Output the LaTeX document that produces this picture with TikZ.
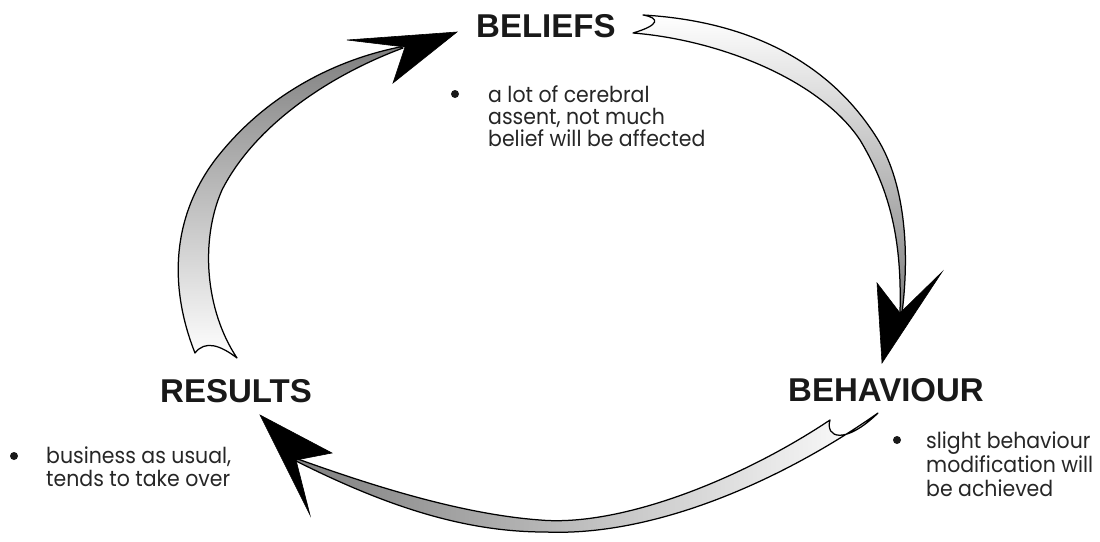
\documentclass[tikz,border=0pt]{standalone}
\usepackage{fontspec}
\newfontfamily\headfont{Liberation Sans}
\newfontfamily\bodyfont[FakeStretch=0.93]{Poppins}
\begin{document}
\begin{tikzpicture}[x=1pt,y=-1pt,
  band/.style={draw=black, line width=1.25pt, line join=round},
  headtip/.style={fill=black, draw=black, line width=0.6pt, line join=miter},
  title/.style={font=\headfont\bfseries\fontsize{33}{38}\selectfont, inner sep=0pt, anchor=base west, text=black!90},
  body/.style={font=\bodyfont\fontsize{22}{24}\selectfont, inner sep=0pt, anchor=base west, text=black!85},
  dot/.style={circle, fill=black!90, inner sep=0pt, minimum size=8pt}]
\useasboundingbox (0,0) rectangle (1100,541);

% left arrow: RESULTS -> BELIEFS
\draw[band, top color=black!50, bottom color=white]
 (195,353) .. controls (170,290) and (170,220) .. (215,160)
 .. controls (265,95) and (335,60) .. (400,47)
 -- (403,48)
 .. controls (330,75) and (255,125) .. (222,190)
 .. controls (200,240) and (205,310) .. (237,358)
 .. controls (220,345) and (205,340) .. (195,353) -- cycle;
\fill[headtip] (347,40) -- (457,32) -- (393,83) -- (405,47) -- cycle;

% right arrow: BELIEFS -> BEHAVIOUR
\draw[band, top color=white, bottom color=black!50]
 (643,15) .. controls (730,20) and (820,50) .. (875,135)
 .. controls (905,180) and (910,250) .. (902,313)
 -- (900,312)
 .. controls (902,240) and (890,190) .. (860,140)
 .. controls (820,80) and (720,40) .. (633,33)
 .. controls (660,25) and (660,18) .. (643,15) -- cycle;
\fill[headtip] (877,283) -- (882,363) -- (942,272) -- (900,313) -- cycle;

% bottom arrow: BEHAVIOUR -> RESULTS
\draw[band, left color=black!50, right color=white]
 (878,413) .. controls (790,475) and (660,537) .. (545,532)
 .. controls (460,532) and (380,503) .. (296,461)
 -- (295,458)
 .. controls (370,485) and (460,514) .. (540,520)
 .. controls (620,527) and (740,480) .. (830,420)
 .. controls (825,438) and (845,445) .. (878,413) -- cycle;
\fill[headtip] (260,415) -- (332,453) -- (296,460) -- (310,515) -- cycle;

% titles
\node[title] (beliefs) at (476,37) {BELIEFS};
\node[title] (results) at (160,402) {RESULTS};
\node[title] (behaviour) at (788,401) {BEHAVIOUR};

% beliefs notes
\node[dot] (bdot) at (455,94) {};
\node[body] (b1) at (488,102) {a lot of cerebral};
\node[body] (b2) at (488,124) {assent, not much};
\node[body] (b3) at (488,146) {belief will be affected};

% results notes
\node[dot] (rdot) at (14,456) {};
\node[body] (r1) at (46,463) {business as usual,};
\node[body] (r2) at (46,486) {tends to take over};

% behaviour notes
\node[dot] (hdot) at (897,440) {};
\node[body] (h1) at (926,448) {slight behaviour};
\node[body] (h2) at (926,472) {modification will};
\node[body] (h3) at (926,496) {be achieved};
\end{tikzpicture}
\end{document}
